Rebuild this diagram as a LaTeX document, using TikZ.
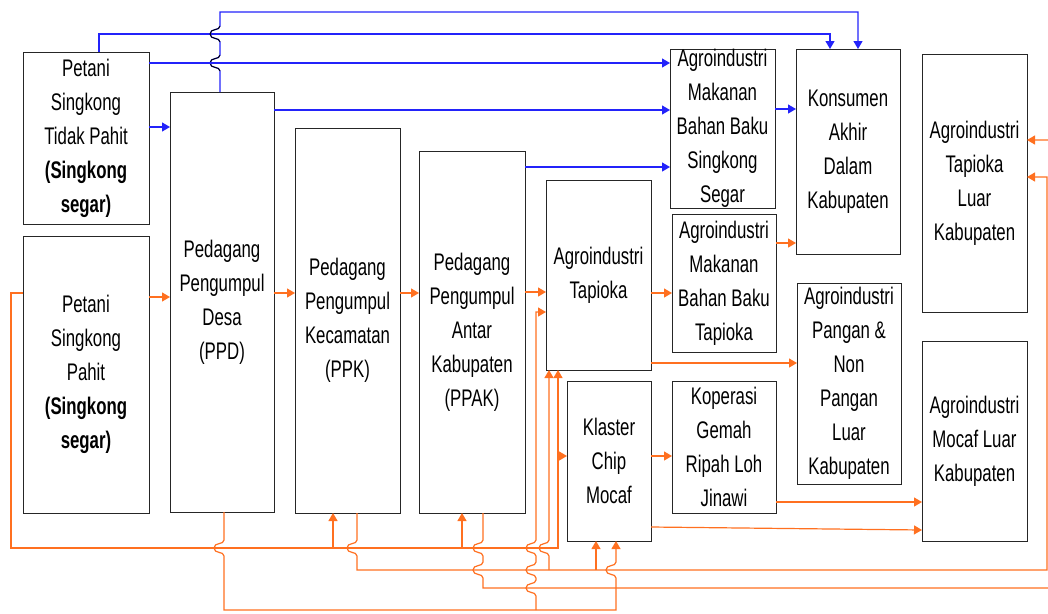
\documentclass[tikz,border=0pt]{standalone}
\usepackage{fontspec}
\setmainfont{Liberation Sans}[FakeStretch=0.70]
\usetikzlibrary{arrows.meta}
\definecolor{bl}{RGB}{35,35,250}
\definecolor{orn}{RGB}{255,112,32}
\newcommand{\hopD}[2]{-- (#1,#2-8) .. controls (#1,#2-3) and (#1-10,#2-6) .. (#1-10,#2) .. controls (#1-10,#2+6) and (#1,#2+3) .. (#1,#2+8)}
\newcommand{\hopU}[2]{-- (#1,#2+8) .. controls (#1,#2+3) and (#1-10,#2+6) .. (#1-10,#2) .. controls (#1-10,#2-6) and (#1,#2-3) .. (#1,#2-8)}
\begin{document}
\begin{tikzpicture}[x=1pt,y=-1pt,
  box/.style={draw=black!85, line width=1pt, inner sep=0pt, outer sep=0pt, align=center, font=\fontsize{24}{34}\selectfont},
  arr/.style={-{Triangle[length=8pt,width=9pt]}},
  blu/.style={draw=bl, line width=1.2pt},
  org/.style={draw=orn, line width=1.2pt},
  hopk/.style={draw=black, line width=0.9pt}]
\useasboundingbox (0,0) rectangle (1048,613);
\clip (0,0) rectangle (1048,613);
% boxes
\node[box, minimum width=126pt, minimum height=172pt] (ptp) at (86,138) {Petani\\Singkong\\Tidak Pahit\\\textbf{(Singkong}\\\textbf{segar)}};
\node[box, minimum width=126pt, minimum height=277pt] (pp) at (86,374.5) {Petani\\Singkong\\Pahit\\\textbf{(Singkong}\\\textbf{segar)}};
\node[box, minimum width=104pt, minimum height=420pt] (ppd) at (222,302) {Pedagang\\Pengumpul\\Desa\\(PPD)};
\node[box, minimum width=105pt, minimum height=385pt] (ppk) at (347.5,320.5) {Pedagang\\Pengumpul\\Kecamatan\\(PPK)};
\node[box, minimum width=106pt, minimum height=362pt] (ppak) at (472,332) {Pedagang\\Pengumpul\\Antar\\Kabupaten\\(PPAK)};
\node[box, minimum width=105pt, minimum height=190pt] (at) at (598.5,275) {Agroindustri\\Tapioka};
\node[box, minimum width=84pt, minimum height=160pt] (kcm) at (609,461) {Klaster\\Chip\\Mocaf};
\node[box, minimum width=105pt, minimum height=159pt] (ams) at (722.5,128.5) {Agroindustri\\Makanan\\Bahan Baku\\Singkong\\Segar};
\node[box, minimum width=104pt, minimum height=138pt] (amt) at (724,283) {Agroindustri\\Makanan\\Bahan Baku\\Tapioka};
\node[box, minimum width=104pt, minimum height=132pt] (kop) at (724,447) {Koperasi\\Gemah\\Ripah Loh\\Jinawi};
\node[box, minimum width=104pt, minimum height=205pt] (ka) at (848,151.5) {Konsumen\\Akhir\\Dalam\\Kabupaten};
\node[box, minimum width=104pt, minimum height=201pt] (apnp) at (849,383.5) {Agroindustri\\Pangan \&\\Non\\Pangan\\Luar\\Kabupaten};
\node[box, minimum width=105pt, minimum height=258pt] (atlk) at (974.5,183) {Agroindustri\\Tapioka\\Luar\\Kabupaten};
\node[box, minimum width=105pt, minimum height=200pt] (amlk) at (974.5,441) {Agroindustri\\Mocaf Luar\\Kabupaten};
% blue connectors
\coordinate (b1) at (830,34);
\coordinate (b2) at (858,12);
\draw[blu,arr] ([xshift=13]ptp.north) |- (b1) -- (b1 |- ka.north);
\draw[blu,arr] ([xshift=-2]ppd.north) \hopU{220}{63} \hopU{220}{34} |- (b2) -- (b2 |- ka.north);
\draw[hopk] (220,71) .. controls (220,66) and (210,69) .. (210,63) .. controls (210,57) and (220,60) .. (220,55);
\draw[hopk] (220,42) .. controls (220,37) and (210,40) .. (210,34) .. controls (210,28) and (220,31) .. (220,26);
\coordinate (s3) at ([yshift=-11]ptp.north east);
\draw[blu,arr] (s3) -- (s3 -| ams.west);
\coordinate (s4) at ([yshift=11]ptp.east);
\draw[blu,arr] (s4) -- (s4 -| ppd.west);
\coordinate (s5) at ([yshift=-18]ppd.north east);
\draw[blu,arr] (s5) -- (s5 -| ams.west);
\coordinate (s6) at ([yshift=-16]ppak.north east);
\draw[blu,arr] (s6) -- (s6 -| ams.west);
\coordinate (s7) at ([yshift=-60]ams.north east);
\draw[blu,arr] (s7) -- (s7 -| ka.west);
% orange straight connectors
\coordinate (o1) at ([yshift=-61]pp.north east);
\draw[org,arr] (o1) -- (o1 -| ppd.west);
\coordinate (o2) at ([yshift=-201]ppd.north east);
\draw[org,arr] (o2) -- (o2 -| ppk.west);
\coordinate (o3) at ([yshift=-165]ppk.north east);
\draw[org,arr] (o3) -- (o3 -| ppak.west);
\coordinate (o4) at ([yshift=-141]ppak.north east);
\draw[org,arr] (o4) -- (o4 -| at.west);
\coordinate (o5) at ([yshift=-113]at.north east);
\draw[org,arr] (o5) -- (o5 -| amt.west);
\coordinate (o6) at ([yshift=-183]at.north east);
\draw[org,arr] (o6) -- (o6 -| apnp.west);
\coordinate (o7) at ([yshift=-29]amt.north east);
\draw[org,arr] (o7) -- (o7 -| ka.west);
\coordinate (o8) at ([yshift=-75]kcm.north east);
\draw[org,arr] (o8) -- (o8 -| kop.west);
\coordinate (o9) at ([yshift=-121]kop.north east);
\draw[org,arr] (o9) -- (o9 -| amlk.west);
\coordinate (o10) at ([yshift=-146]kcm.north east);
\draw[org,arr] (o10) -- ([yshift=-189]amlk.north west);
% orange: from Petani Singkong Pahit (left side) along y=548
\coordinate (p0) at ([yshift=-57]pp.north west);
\coordinate (L1) at (11,548);
\coordinate (L2) at (558,548);
\coordinate (j1) at (333,548);
\coordinate (j2) at (462,548);
\coordinate (k1) at (558,456);
\draw[org,arr] (p0) -| (L1) -- (L2) -- (L2 |- at.south);
\draw[org,arr] (k1) -- (k1 -| kcm.west);
\draw[org,arr] (j1) -- (j1 |- ppk.south);
\draw[org,arr] (j2) -- (j2 |- ppak.south);
% orange: from PPD bottom along y=610
\coordinate (q0) at (536,610);
\coordinate (q1) at (536,312);
\draw[org,arr] ([xshift=2]ppd.south) \hopD{224}{548} -- (224,610) -- (616,610) \hopU{616}{570} -- ([xshift=7]kcm.south);
\draw[org,arr] (q0) \hopU{536}{588} \hopU{536}{570} \hopU{536}{548} -- (q1) -- (q1 -| at.west);
% orange: from PPK bottom along y=570
\coordinate (r1) at (1047,177);
\coordinate (c549) at (549,570);
\coordinate (c596) at (596,570);
\draw[org,arr] ([xshift=9.5]ppk.south) \hopD{357}{548} -- (357,570) -- (1047,570) -- (r1) -- (r1 -| atlk.east);
\draw[org,arr] (c549) \hopU{549}{548} -- (c549 |- at.south);
\draw[org,arr] (c596) -- (c596 |- kcm.south);
% orange: from PPAK bottom along y=588
\coordinate (r2) at (1056,140);
\draw[org,arr] ([xshift=11]ppak.south) \hopD{483}{548} \hopD{483}{570} -- (483,588) -- (1056,588) -- (r2) -- (r2 -| atlk.east);
\end{tikzpicture}
\end{document}
